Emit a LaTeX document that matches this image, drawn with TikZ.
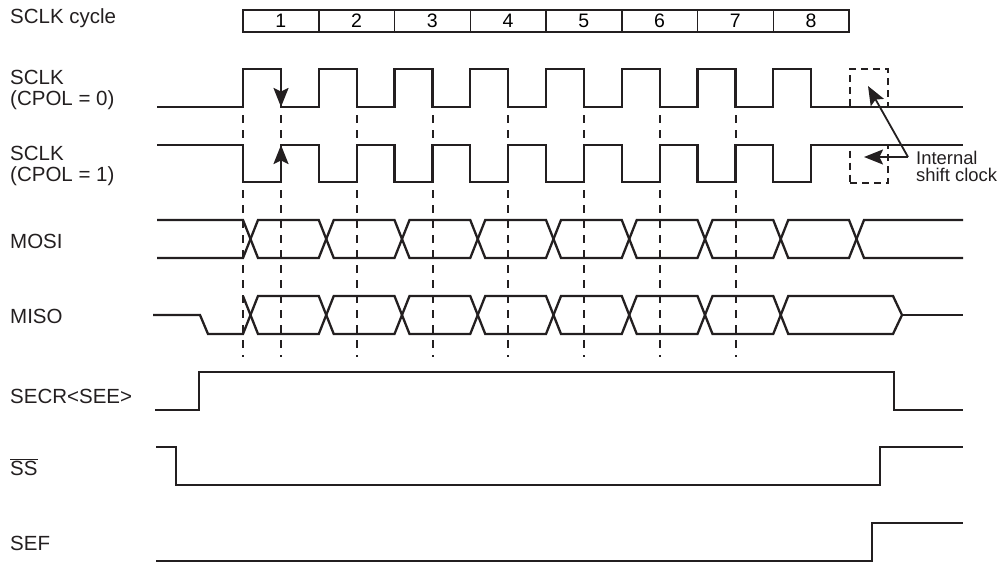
\documentclass[tikz,border=0pt]{standalone}
\usepackage{fontspec}
\setmainfont{Liberation Sans}
\usetikzlibrary{arrows.meta,positioning}
\definecolor{ink}{HTML}{231F20}

\begin{document}
\begin{tikzpicture}[x=1pt, y=-1pt,
    sig/.style={line width=2.3pt, draw=ink},
    guide/.style={line width=2pt, draw=ink, dash pattern=on 8pt off 7pt},
    arr/.style={line width=2.2pt, draw=ink, -{Stealth[length=19pt,width=15pt,inset=3.5pt]}},
    cyc/.style={draw=ink, line width=1.5pt, minimum width=75.75pt, minimum height=22pt, inner sep=0pt, font=\fontsize{19.5}{19.5}\selectfont},
    lbl/.style={anchor=base west, inner sep=0pt, text=ink, font=\fontsize{20.5}{20.5}\selectfont, align=left},
    ibox/.style={draw=ink, line width=2pt, dash pattern=on 7pt off 5pt, minimum size=38pt, inner sep=0pt}]
    \useasboundingbox (0,0) rectangle (1001,565);
    % signal names
    \node[lbl] (lcyc) at (10,23.5) {SCLK cycle};
    \node[lbl, anchor=west] (lcp0) at (10,90) {SCLK\\(CPOL = 0)};
    \node[lbl, anchor=west] (lcp1) at (10,166) {SCLK\\(CPOL = 1)};
    \node[lbl] (lmosi) at (10,248) {MOSI};
    \node[lbl] (lmiso) at (10,323) {MISO};
    \node[lbl] (lsee) at (10,403) {SECR<SEE>};
    \node[lbl] (lss) at (10,475) {$\overline{\mbox{SS}}$};
    \node[lbl] (lsef) at (10,550) {SEF};
    % cycle numbers
    \foreach \k in {1,...,8}
        \node[cyc] (c\k) at ({243+(\k-0.5)*75.75},21) {\k};
    % sampling guides
    \foreach \x in {243,281,356.75,432.5,508.25,584,659.75,735.5}
        \draw[guide] (\x,115) -- (\x,357);
    % clocks
    \draw[sig] (157,107) foreach \k in {0,...,7} { -- ({243+\k*75.75},107) -- ++(0,-38) -- ++(38,0) -- ++(0,38) } -- (963,107);
    \draw[sig] (157,145) foreach \k in {0,...,7} { -- ({243+\k*75.75},145) -- ++(0,37) -- ++(38,0) -- ++(0,-37) } -- (963,145);
    \draw[arr] (281,69) -- (281,107);
    \draw[arr] (281,182) -- (281,145);
    % MOSI
    \draw[sig] (157,220) -- (243,220) -- (250.5,239) -- (243,258) -- (157,258);
    \foreach \k in {0,...,7}
        \draw[sig] ({250.5+\k*75.75},239) -- ++(7.5,-19) -- ({243+(\k+1)*75.75},220) -- ++(7.5,19) -- ++(-7.5,19) -- ({258+\k*75.75},258) -- cycle;
    \draw[sig] (963,220) -- (864,220) -- (856.5,239) -- (864,258) -- (963,258);
    % MISO
    \draw[sig] (153,315) -- (200,315) -- (208,334) -- (243,334) -- (250.5,315) -- (243,296);
    \foreach \k in {0,...,6}
        \draw[sig] ({250.5+\k*75.75},315) -- ++(7.5,-19) -- ({243+(\k+1)*75.75},296) -- ++(7.5,19) -- ++(-7.5,19) -- ({258+\k*75.75},334) -- cycle;
    \draw[sig] (780.75,315) -- (788.25,296) -- (893,296) -- (902,315) -- (893,334) -- (788.25,334) -- cycle;
    \draw[sig] (902,315) -- (963,315);
    % enable, select, flag
    \draw[sig] (155,410) -- (199,410) -- (199,372) -- (894,372) -- (894,410) -- (963,410);
    \draw[sig] (156,447) -- (176,447) -- (176,485) -- (880,485) -- (880,447) -- (963,447);
    \draw[sig] (156,561) -- (872,561) -- (872,523) -- (963,523);
    % internal shift clock
    \node[ibox] (ib0) at (869,88) {};
    \node[ibox] (ib1) at (869,163.5) {};
    \node[lbl, anchor=west, font=\fontsize{18.4}{17}\selectfont] (lisc) at (916,166) {Internal\\shift clock};
    \coordinate (isc) at (908,157);
    \coordinate (t0) at (868,86);
    \coordinate (t1) at (864,157);
    \draw[arr, line width=1.8pt] (isc) -- (t0);
    \draw[arr, line width=1.8pt] (isc) -- (t1);
\end{tikzpicture}
\end{document}
